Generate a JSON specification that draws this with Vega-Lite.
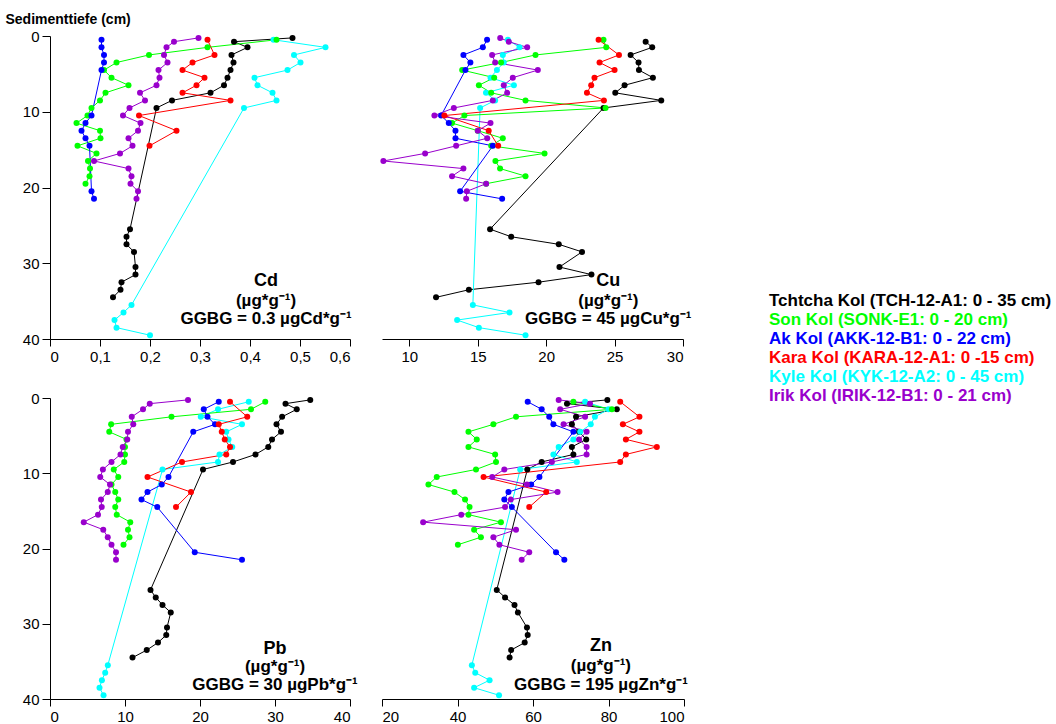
{
"$schema": "https://vega.github.io/schema/vega-lite/v6.json",
"background": "white",
"padding": {"left": 5, "top": 12, "right": 0, "bottom": 0},
"config": {"view": {"stroke": null}, "font": "Liberation Sans", "axis": {"grid": false, "domainColor": "#000", "tickColor": "#000", "labelColor": "#000", "titleColor": "#000", "labelFontSize": 15, "labelFont": "Liberation Sans"}},
"datasets": {
"leg": [
{"l":"T","t":"Tchtcha Kol (TCH-12-A1: 0 - 35 cm)"},
{"l":"S","t":"Son Kol (SONK-E1: 0 -  20 cm)"},
{"l":"A","t":"Ak Kol (AKK-12-B1: 0 - 22 cm)"},
{"l":"K","t":"Kara Kol (KARA-12-A1: 0 -15 cm)"},
{"l":"Y","t":"Kyle Kol (KYK-12-A2: 0 - 45 cm)"},
{"l":"I","t":"Irik Kol (IRIK-12-B1: 0 - 21 cm)"}
],
"pts": [
{"e":"Cd","l":"T","d":0.25,"v":0.485},{"e":"Cd","l":"T","d":0.75,"v":0.368},{"e":"Cd","l":"T","d":1.5,"v":0.395},{"e":"Cd","l":"T","d":2.5,"v":0.363},{"e":"Cd","l":"T","d":3.5,"v":0.367},{"e":"Cd","l":"T","d":4.5,"v":0.361},{"e":"Cd","l":"T","d":5.5,"v":0.355},{"e":"Cd","l":"T","d":6.5,"v":0.348},{"e":"Cd","l":"T","d":7.5,"v":0.321},{"e":"Cd","l":"T","d":8.5,"v":0.244},{"e":"Cd","l":"T","d":9.5,"v":0.213},{"e":"Cd","l":"T","d":25.5,"v":0.16},{"e":"Cd","l":"T","d":26.5,"v":0.153},{"e":"Cd","l":"T","d":27.5,"v":0.153},{"e":"Cd","l":"T","d":28.5,"v":0.168},{"e":"Cd","l":"T","d":30.5,"v":0.171},{"e":"Cd","l":"T","d":31.5,"v":0.171},{"e":"Cd","l":"T","d":32.5,"v":0.143},{"e":"Cd","l":"T","d":33.5,"v":0.141},{"e":"Cd","l":"T","d":34.5,"v":0.126},
{"e":"Cd","l":"Y","d":0.5,"v":0.447},{"e":"Cd","l":"Y","d":1.5,"v":0.551},{"e":"Cd","l":"Y","d":2.5,"v":0.488},{"e":"Cd","l":"Y","d":3.5,"v":0.501},{"e":"Cd","l":"Y","d":4.5,"v":0.475},{"e":"Cd","l":"Y","d":5.5,"v":0.409},{"e":"Cd","l":"Y","d":6.5,"v":0.415},{"e":"Cd","l":"Y","d":7.5,"v":0.445},{"e":"Cd","l":"Y","d":8.5,"v":0.453},{"e":"Cd","l":"Y","d":9.5,"v":0.388},{"e":"Cd","l":"Y","d":35.5,"v":0.163},{"e":"Cd","l":"Y","d":36.5,"v":0.147},{"e":"Cd","l":"Y","d":37.5,"v":0.129},{"e":"Cd","l":"Y","d":38.5,"v":0.133},{"e":"Cd","l":"Y","d":39.5,"v":0.2},
{"e":"Cd","l":"S","d":0.5,"v":0.453},{"e":"Cd","l":"S","d":1.5,"v":0.315},{"e":"Cd","l":"S","d":2.5,"v":0.198},{"e":"Cd","l":"S","d":3.5,"v":0.133},{"e":"Cd","l":"S","d":4.5,"v":0.108},{"e":"Cd","l":"S","d":5.5,"v":0.123},{"e":"Cd","l":"S","d":6.5,"v":0.157},{"e":"Cd","l":"S","d":7.5,"v":0.111},{"e":"Cd","l":"S","d":8.5,"v":0.1},{"e":"Cd","l":"S","d":9.5,"v":0.083},{"e":"Cd","l":"S","d":10.5,"v":0.075},{"e":"Cd","l":"S","d":11.5,"v":0.053},{"e":"Cd","l":"S","d":12.5,"v":0.1},{"e":"Cd","l":"S","d":13.5,"v":0.101},{"e":"Cd","l":"S","d":14.5,"v":0.055},{"e":"Cd","l":"S","d":15.5,"v":0.093},{"e":"Cd","l":"S","d":16.5,"v":0.076},{"e":"Cd","l":"S","d":17.5,"v":0.08},{"e":"Cd","l":"S","d":18.5,"v":0.079},{"e":"Cd","l":"S","d":19.5,"v":0.071},
{"e":"Cd","l":"A","d":0.5,"v":0.103},{"e":"Cd","l":"A","d":1.5,"v":0.103},{"e":"Cd","l":"A","d":2.5,"v":0.108},{"e":"Cd","l":"A","d":3.5,"v":0.108},{"e":"Cd","l":"A","d":4.5,"v":0.103},{"e":"Cd","l":"A","d":10.5,"v":0.083},{"e":"Cd","l":"A","d":11.5,"v":0.071},{"e":"Cd","l":"A","d":12.5,"v":0.063},{"e":"Cd","l":"A","d":13.5,"v":0.071},{"e":"Cd","l":"A","d":14.5,"v":0.079},{"e":"Cd","l":"A","d":20.5,"v":0.083},{"e":"Cd","l":"A","d":21.5,"v":0.088},
{"e":"Cd","l":"K","d":0.5,"v":0.315},{"e":"Cd","l":"K","d":2.5,"v":0.329},{"e":"Cd","l":"K","d":3.5,"v":0.285},{"e":"Cd","l":"K","d":4.5,"v":0.265},{"e":"Cd","l":"K","d":5.5,"v":0.309},{"e":"Cd","l":"K","d":6.5,"v":0.293},{"e":"Cd","l":"K","d":7.5,"v":0.265},{"e":"Cd","l":"K","d":8.5,"v":0.361},{"e":"Cd","l":"K","d":10.5,"v":0.178},{"e":"Cd","l":"K","d":12.5,"v":0.253},{"e":"Cd","l":"K","d":14.5,"v":0.199},
{"e":"Cd","l":"I","d":0.25,"v":0.297},{"e":"Cd","l":"I","d":0.75,"v":0.248},{"e":"Cd","l":"I","d":1.5,"v":0.233},{"e":"Cd","l":"I","d":2.5,"v":0.228},{"e":"Cd","l":"I","d":3.5,"v":0.235},{"e":"Cd","l":"I","d":4.5,"v":0.217},{"e":"Cd","l":"I","d":5.5,"v":0.219},{"e":"Cd","l":"I","d":6.5,"v":0.213},{"e":"Cd","l":"I","d":7.5,"v":0.18},{"e":"Cd","l":"I","d":8.5,"v":0.19},{"e":"Cd","l":"I","d":9.5,"v":0.159},{"e":"Cd","l":"I","d":10.5,"v":0.146},{"e":"Cd","l":"I","d":11.5,"v":0.181},{"e":"Cd","l":"I","d":12.5,"v":0.176},{"e":"Cd","l":"I","d":13.5,"v":0.157},{"e":"Cd","l":"I","d":14.5,"v":0.165},{"e":"Cd","l":"I","d":15.5,"v":0.14},{"e":"Cd","l":"I","d":16.5,"v":0.088},{"e":"Cd","l":"I","d":17.5,"v":0.157},{"e":"Cd","l":"I","d":18.5,"v":0.163},{"e":"Cd","l":"I","d":19.5,"v":0.161},{"e":"Cd","l":"I","d":20.5,"v":0.176},{"e":"Cd","l":"I","d":21.5,"v":0.173},

{"e":"Cu","l":"T","d":0.75,"v":27.27},{"e":"Cu","l":"T","d":1.5,"v":27.75},{"e":"Cu","l":"T","d":2.5,"v":26.17},{"e":"Cu","l":"T","d":3.5,"v":26.75},{"e":"Cu","l":"T","d":4.5,"v":26.78},{"e":"Cu","l":"T","d":5.5,"v":27.8},{"e":"Cu","l":"T","d":6.5,"v":25.73},{"e":"Cu","l":"T","d":7.5,"v":25.05},{"e":"Cu","l":"T","d":8.5,"v":28.41},{"e":"Cu","l":"T","d":9.5,"v":24.19},{"e":"Cu","l":"T","d":25.5,"v":15.9},{"e":"Cu","l":"T","d":26.5,"v":17.44},{"e":"Cu","l":"T","d":27.5,"v":20.92},{"e":"Cu","l":"T","d":28.5,"v":22.62},{"e":"Cu","l":"T","d":30.5,"v":20.97},{"e":"Cu","l":"T","d":31.5,"v":23.31},{"e":"Cu","l":"T","d":32.5,"v":19.44},{"e":"Cu","l":"T","d":33.5,"v":14.35},{"e":"Cu","l":"T","d":34.5,"v":11.95},
{"e":"Cu","l":"Y","d":0.5,"v":17.2},{"e":"Cu","l":"Y","d":1.5,"v":18.05},{"e":"Cu","l":"Y","d":2.5,"v":16.83},{"e":"Cu","l":"Y","d":3.5,"v":16.9},{"e":"Cu","l":"Y","d":4.5,"v":16.4},{"e":"Cu","l":"Y","d":5.5,"v":15.93},{"e":"Cu","l":"Y","d":6.5,"v":17.64},{"e":"Cu","l":"Y","d":7.5,"v":15.6},{"e":"Cu","l":"Y","d":8.5,"v":16.27},{"e":"Cu","l":"Y","d":9.5,"v":15.17},{"e":"Cu","l":"Y","d":35.5,"v":14.64},{"e":"Cu","l":"Y","d":36.5,"v":17.32},{"e":"Cu","l":"Y","d":37.5,"v":13.49},{"e":"Cu","l":"Y","d":38.5,"v":15.08},{"e":"Cu","l":"Y","d":39.5,"v":18.49},
{"e":"Cu","l":"S","d":0.5,"v":24.19},{"e":"Cu","l":"S","d":1.5,"v":24.39},{"e":"Cu","l":"S","d":2.5,"v":19.22},{"e":"Cu","l":"S","d":3.5,"v":16.7},{"e":"Cu","l":"S","d":4.5,"v":13.86},{"e":"Cu","l":"S","d":5.5,"v":16.2},{"e":"Cu","l":"S","d":6.5,"v":15.08},{"e":"Cu","l":"S","d":7.5,"v":15.98},{"e":"Cu","l":"S","d":8.5,"v":18.49},{"e":"Cu","l":"S","d":9.5,"v":24.34},{"e":"Cu","l":"S","d":10.5,"v":14.02},{"e":"Cu","l":"S","d":11.5,"v":13.12},{"e":"Cu","l":"S","d":12.5,"v":15.0},{"e":"Cu","l":"S","d":13.5,"v":16.83},{"e":"Cu","l":"S","d":14.5,"v":15.98},{"e":"Cu","l":"S","d":15.5,"v":19.88},{"e":"Cu","l":"S","d":16.5,"v":16.29},{"e":"Cu","l":"S","d":17.5,"v":16.63},{"e":"Cu","l":"S","d":18.5,"v":18.49},{"e":"Cu","l":"S","d":19.5,"v":15.61},
{"e":"Cu","l":"A","d":0.5,"v":15.68},{"e":"Cu","l":"A","d":1.5,"v":15.37},{"e":"Cu","l":"A","d":2.5,"v":13.95},{"e":"Cu","l":"A","d":3.5,"v":14.46},{"e":"Cu","l":"A","d":4.5,"v":14.1},{"e":"Cu","l":"A","d":10.5,"v":12.32},{"e":"Cu","l":"A","d":11.5,"v":12.88},{"e":"Cu","l":"A","d":12.5,"v":13.37},{"e":"Cu","l":"A","d":13.5,"v":13.37},{"e":"Cu","l":"A","d":14.5,"v":16.1},{"e":"Cu","l":"A","d":20.5,"v":13.71},{"e":"Cu","l":"A","d":21.5,"v":16.78},
{"e":"Cu","l":"K","d":0.5,"v":23.83},{"e":"Cu","l":"K","d":2.5,"v":25.32},{"e":"Cu","l":"K","d":3.5,"v":23.9},{"e":"Cu","l":"K","d":4.5,"v":25.0},{"e":"Cu","l":"K","d":5.5,"v":23.53},{"e":"Cu","l":"K","d":6.5,"v":23.29},{"e":"Cu","l":"K","d":7.5,"v":22.98},{"e":"Cu","l":"K","d":8.5,"v":24.22},{"e":"Cu","l":"K","d":10.5,"v":12.56},{"e":"Cu","l":"K","d":12.5,"v":15.8},{"e":"Cu","l":"K","d":14.5,"v":16.49},
{"e":"Cu","l":"I","d":0.25,"v":16.64},{"e":"Cu","l":"I","d":0.75,"v":17.27},{"e":"Cu","l":"I","d":1.5,"v":18.61},{"e":"Cu","l":"I","d":2.5,"v":16.05},{"e":"Cu","l":"I","d":3.5,"v":16.27},{"e":"Cu","l":"I","d":4.5,"v":19.39},{"e":"Cu","l":"I","d":5.5,"v":17.56},{"e":"Cu","l":"I","d":6.5,"v":16.9},{"e":"Cu","l":"I","d":7.5,"v":17.15},{"e":"Cu","l":"I","d":8.5,"v":16.1},{"e":"Cu","l":"I","d":9.5,"v":13.25},{"e":"Cu","l":"I","d":10.5,"v":11.83},{"e":"Cu","l":"I","d":11.5,"v":15.93},{"e":"Cu","l":"I","d":12.5,"v":15.0},{"e":"Cu","l":"I","d":13.5,"v":15.69},{"e":"Cu","l":"I","d":14.5,"v":13.42},{"e":"Cu","l":"I","d":15.5,"v":11.15},{"e":"Cu","l":"I","d":16.5,"v":8.1},{"e":"Cu","l":"I","d":17.5,"v":13.95},{"e":"Cu","l":"I","d":18.5,"v":13.12},{"e":"Cu","l":"I","d":19.5,"v":15.61},{"e":"Cu","l":"I","d":20.5,"v":14.2},{"e":"Cu","l":"I","d":21.5,"v":14.15},

{"e":"Pb","l":"T","d":0.25,"v":34.7},{"e":"Pb","l":"T","d":0.75,"v":31.4},{"e":"Pb","l":"T","d":1.5,"v":32.9},{"e":"Pb","l":"T","d":2.5,"v":30.95},{"e":"Pb","l":"T","d":3.5,"v":30.2},{"e":"Pb","l":"T","d":4.5,"v":30.8},{"e":"Pb","l":"T","d":5.5,"v":29.6},{"e":"Pb","l":"T","d":6.5,"v":29.1},{"e":"Pb","l":"T","d":7.5,"v":27.4},{"e":"Pb","l":"T","d":8.5,"v":24.4},{"e":"Pb","l":"T","d":9.5,"v":20.4},{"e":"Pb","l":"T","d":25.5,"v":13.4},{"e":"Pb","l":"T","d":26.5,"v":14.1},{"e":"Pb","l":"T","d":27.5,"v":15.0},{"e":"Pb","l":"T","d":28.5,"v":16.1},{"e":"Pb","l":"T","d":30.5,"v":15.6},{"e":"Pb","l":"T","d":31.5,"v":15.5},{"e":"Pb","l":"T","d":32.5,"v":14.4},{"e":"Pb","l":"T","d":33.5,"v":12.9},{"e":"Pb","l":"T","d":34.5,"v":11.0},
{"e":"Pb","l":"Y","d":0.5,"v":26.5},{"e":"Pb","l":"Y","d":1.5,"v":22.4},{"e":"Pb","l":"Y","d":2.5,"v":20.1},{"e":"Pb","l":"Y","d":3.5,"v":25.6},{"e":"Pb","l":"Y","d":4.5,"v":23.5},{"e":"Pb","l":"Y","d":5.5,"v":23.8},{"e":"Pb","l":"Y","d":6.5,"v":24.3},{"e":"Pb","l":"Y","d":7.5,"v":22.6},{"e":"Pb","l":"Y","d":8.5,"v":22.4},{"e":"Pb","l":"Y","d":9.5,"v":15.0},{"e":"Pb","l":"Y","d":35.5,"v":7.71},{"e":"Pb","l":"Y","d":36.5,"v":7.36},{"e":"Pb","l":"Y","d":37.5,"v":6.92},{"e":"Pb","l":"Y","d":38.5,"v":6.6},{"e":"Pb","l":"Y","d":39.5,"v":7.14},
{"e":"Pb","l":"S","d":0.5,"v":28.7},{"e":"Pb","l":"S","d":1.5,"v":26.8},{"e":"Pb","l":"S","d":2.5,"v":16.2},{"e":"Pb","l":"S","d":3.5,"v":8.15},{"e":"Pb","l":"S","d":4.5,"v":7.9},{"e":"Pb","l":"S","d":5.5,"v":10.2},{"e":"Pb","l":"S","d":6.5,"v":10.0},{"e":"Pb","l":"S","d":7.5,"v":10.0},{"e":"Pb","l":"S","d":8.5,"v":9.9},{"e":"Pb","l":"S","d":9.5,"v":8.5},{"e":"Pb","l":"S","d":10.5,"v":9.1},{"e":"Pb","l":"S","d":11.5,"v":8.2},{"e":"Pb","l":"S","d":12.5,"v":8.7},{"e":"Pb","l":"S","d":13.5,"v":9.1},{"e":"Pb","l":"S","d":14.5,"v":8.7},{"e":"Pb","l":"S","d":15.5,"v":8.9},{"e":"Pb","l":"S","d":16.5,"v":10.7},{"e":"Pb","l":"S","d":17.5,"v":10.4},{"e":"Pb","l":"S","d":18.5,"v":10.6},{"e":"Pb","l":"S","d":19.5,"v":9.8},
{"e":"Pb","l":"A","d":0.5,"v":22.5},{"e":"Pb","l":"A","d":1.5,"v":20.5},{"e":"Pb","l":"A","d":2.5,"v":21.0},{"e":"Pb","l":"A","d":3.5,"v":22.0},{"e":"Pb","l":"A","d":4.5,"v":19.1},{"e":"Pb","l":"A","d":10.5,"v":15.8},{"e":"Pb","l":"A","d":11.5,"v":14.9},{"e":"Pb","l":"A","d":12.5,"v":13.0},{"e":"Pb","l":"A","d":13.5,"v":12.2},{"e":"Pb","l":"A","d":14.5,"v":14.3},{"e":"Pb","l":"A","d":20.5,"v":19.3},{"e":"Pb","l":"A","d":21.5,"v":25.6},
{"e":"Pb","l":"K","d":0.5,"v":24.0},{"e":"Pb","l":"K","d":2.5,"v":26.3},{"e":"Pb","l":"K","d":3.5,"v":22.5},{"e":"Pb","l":"K","d":4.5,"v":22.9},{"e":"Pb","l":"K","d":5.5,"v":23.3},{"e":"Pb","l":"K","d":6.5,"v":24.0},{"e":"Pb","l":"K","d":7.5,"v":23.5},{"e":"Pb","l":"K","d":8.5,"v":17.6},{"e":"Pb","l":"K","d":10.5,"v":13.0},{"e":"Pb","l":"K","d":12.5,"v":18.8},{"e":"Pb","l":"K","d":14.5,"v":16.8},
{"e":"Pb","l":"I","d":0.25,"v":18.4},{"e":"Pb","l":"I","d":0.75,"v":13.3},{"e":"Pb","l":"I","d":1.5,"v":12.4},{"e":"Pb","l":"I","d":2.5,"v":10.9},{"e":"Pb","l":"I","d":3.5,"v":11.1},{"e":"Pb","l":"I","d":4.5,"v":10.4},{"e":"Pb","l":"I","d":5.5,"v":10.3},{"e":"Pb","l":"I","d":6.5,"v":9.7},{"e":"Pb","l":"I","d":7.5,"v":9.4},{"e":"Pb","l":"I","d":8.5,"v":8.2},{"e":"Pb","l":"I","d":9.5,"v":7.05},{"e":"Pb","l":"I","d":10.5,"v":6.7},{"e":"Pb","l":"I","d":11.5,"v":8.0},{"e":"Pb","l":"I","d":12.5,"v":7.7},{"e":"Pb","l":"I","d":13.5,"v":6.8},{"e":"Pb","l":"I","d":14.5,"v":6.9},{"e":"Pb","l":"I","d":15.5,"v":6.4},{"e":"Pb","l":"I","d":16.5,"v":4.5},{"e":"Pb","l":"I","d":17.5,"v":7.1},{"e":"Pb","l":"I","d":18.5,"v":7.7},{"e":"Pb","l":"I","d":19.5,"v":8.2},{"e":"Pb","l":"I","d":20.5,"v":8.8},{"e":"Pb","l":"I","d":21.5,"v":8.8},

{"e":"Zn","l":"T","d":0.25,"v":79.7},{"e":"Zn","l":"T","d":0.75,"v":69.0},{"e":"Zn","l":"T","d":1.5,"v":82.2},{"e":"Zn","l":"T","d":2.5,"v":71.4},{"e":"Zn","l":"T","d":3.5,"v":70.3},{"e":"Zn","l":"T","d":4.5,"v":72.2},{"e":"Zn","l":"T","d":5.5,"v":74.1},{"e":"Zn","l":"T","d":6.5,"v":70.3},{"e":"Zn","l":"T","d":7.5,"v":70.7},{"e":"Zn","l":"T","d":8.5,"v":62.3},{"e":"Zn","l":"T","d":9.5,"v":58.5},{"e":"Zn","l":"T","d":25.5,"v":50.4},{"e":"Zn","l":"T","d":26.5,"v":52.6},{"e":"Zn","l":"T","d":27.5,"v":55.1},{"e":"Zn","l":"T","d":28.5,"v":56.0},{"e":"Zn","l":"T","d":30.5,"v":58.4},{"e":"Zn","l":"T","d":31.5,"v":58.6},{"e":"Zn","l":"T","d":32.5,"v":57.8},{"e":"Zn","l":"T","d":33.5,"v":54.2},{"e":"Zn","l":"T","d":34.5,"v":53.8},
{"e":"Zn","l":"Y","d":0.5,"v":73.8},{"e":"Zn","l":"Y","d":1.5,"v":80.0},{"e":"Zn","l":"Y","d":2.5,"v":76.4},{"e":"Zn","l":"Y","d":3.5,"v":75.3},{"e":"Zn","l":"Y","d":4.5,"v":72.5},{"e":"Zn","l":"Y","d":5.5,"v":70.7},{"e":"Zn","l":"Y","d":6.5,"v":66.8},{"e":"Zn","l":"Y","d":7.5,"v":65.4},{"e":"Zn","l":"Y","d":8.5,"v":71.6},{"e":"Zn","l":"Y","d":9.5,"v":56.6},{"e":"Zn","l":"Y","d":35.5,"v":43.8},{"e":"Zn","l":"Y","d":36.5,"v":44.7},{"e":"Zn","l":"Y","d":37.5,"v":48.5},{"e":"Zn","l":"Y","d":38.5,"v":44.4},{"e":"Zn","l":"Y","d":39.5,"v":51.0},
{"e":"Zn","l":"S","d":0.5,"v":70.7},{"e":"Zn","l":"S","d":1.5,"v":80.9},{"e":"Zn","l":"S","d":2.5,"v":55.5},{"e":"Zn","l":"S","d":3.5,"v":49.5},{"e":"Zn","l":"S","d":4.5,"v":42.9},{"e":"Zn","l":"S","d":5.5,"v":45.1},{"e":"Zn","l":"S","d":6.5,"v":42.9},{"e":"Zn","l":"S","d":7.5,"v":49.97},{"e":"Zn","l":"S","d":8.5,"v":50.2},{"e":"Zn","l":"S","d":9.5,"v":44.9},{"e":"Zn","l":"S","d":10.5,"v":34.5},{"e":"Zn","l":"S","d":11.5,"v":32.3},{"e":"Zn","l":"S","d":12.5,"v":39.2},{"e":"Zn","l":"S","d":13.5,"v":42.0},{"e":"Zn","l":"S","d":14.5,"v":43.2},{"e":"Zn","l":"S","d":15.5,"v":42.9},{"e":"Zn","l":"S","d":16.5,"v":51.5},{"e":"Zn","l":"S","d":17.5,"v":44.4},{"e":"Zn","l":"S","d":18.5,"v":46.2},{"e":"Zn","l":"S","d":19.5,"v":40.1},
{"e":"Zn","l":"A","d":0.5,"v":58.6},{"e":"Zn","l":"A","d":1.5,"v":62.3},{"e":"Zn","l":"A","d":2.5,"v":64.3},{"e":"Zn","l":"A","d":3.5,"v":65.4},{"e":"Zn","l":"A","d":4.5,"v":70.7},{"e":"Zn","l":"A","d":10.5,"v":61.7},{"e":"Zn","l":"A","d":11.5,"v":59.5},{"e":"Zn","l":"A","d":12.5,"v":53.5},{"e":"Zn","l":"A","d":13.5,"v":52.4},{"e":"Zn","l":"A","d":14.5,"v":54.4},{"e":"Zn","l":"A","d":20.5,"v":66.1},{"e":"Zn","l":"A","d":21.5,"v":68.3},
{"e":"Zn","l":"K","d":0.5,"v":83.1},{"e":"Zn","l":"K","d":2.5,"v":88.2},{"e":"Zn","l":"K","d":3.5,"v":83.8},{"e":"Zn","l":"K","d":4.5,"v":88.2},{"e":"Zn","l":"K","d":5.5,"v":84.6},{"e":"Zn","l":"K","d":6.5,"v":92.8},{"e":"Zn","l":"K","d":7.5,"v":84.6},{"e":"Zn","l":"K","d":8.5,"v":83.1},{"e":"Zn","l":"K","d":10.5,"v":46.9},{"e":"Zn","l":"K","d":12.5,"v":63.5},{"e":"Zn","l":"K","d":14.5,"v":59.0},
{"e":"Zn","l":"I","d":0.25,"v":66.8},{"e":"Zn","l":"I","d":0.75,"v":75.1},{"e":"Zn","l":"I","d":1.5,"v":67.2},{"e":"Zn","l":"I","d":2.5,"v":73.8},{"e":"Zn","l":"I","d":3.5,"v":68.1},{"e":"Zn","l":"I","d":4.5,"v":74.2},{"e":"Zn","l":"I","d":5.5,"v":72.2},{"e":"Zn","l":"I","d":6.5,"v":74.2},{"e":"Zn","l":"I","d":7.5,"v":74.2},{"e":"Zn","l":"I","d":8.5,"v":65.0},{"e":"Zn","l":"I","d":9.5,"v":52.4},{"e":"Zn","l":"I","d":10.5,"v":49.2},{"e":"Zn","l":"I","d":11.5,"v":58.4},{"e":"Zn","l":"I","d":12.5,"v":66.5},{"e":"Zn","l":"I","d":13.5,"v":54.1},{"e":"Zn","l":"I","d":14.5,"v":52.6},{"e":"Zn","l":"I","d":15.5,"v":41.0},{"e":"Zn","l":"I","d":16.5,"v":30.9},{"e":"Zn","l":"I","d":17.5,"v":55.5},{"e":"Zn","l":"I","d":18.5,"v":49.5},{"e":"Zn","l":"I","d":19.5,"v":51.1},{"e":"Zn","l":"I","d":20.5,"v":59.0},{"e":"Zn","l":"I","d":21.5,"v":57.0}
]
},
"spacing": 77,
"hconcat": [
{
"columns": 2,
"spacing": {"row": 27, "column": 22},
"concat": [
{
"width": 300, "height": 303,
"layer": [
{"data": {"name": "pts"}, "transform": [{"filter": "datum.e === 'Cd'"}],
"mark": {"type": "line", "strokeWidth": 1, "point": {"filled": true, "size": 36, "opacity": 1}},
"encoding": {
"x": {"field": "v", "type": "quantitative", "scale": {"domain": [0, 0.6], "nice": false, "zero": false}, "axis": {"title": null, "values": [0,0.05,0.1,0.15,0.2,0.25,0.3,0.35,0.4,0.45,0.5,0.55,0.6], "tickSize": 7, "labelPadding": 3, "labelExpr": "abs(datum.value*10 - round(datum.value*10)) < 0.001 ? (datum.value == 0 ? '0' : replace(format(datum.value, '.1f'), '.', ',')) : ''"}},
"y": {"field": "d", "type": "quantitative", "scale": {"domain": [0, 40], "reverse": true, "nice": false, "zero": false}, "axis": {"values": [0,2.5,5,7.5,10,12.5,15,17.5,20,22.5,25,27.5,30,32.5,35,37.5,40], "labelExpr": "datum.value % 5 === 0 ? datum.label : ''", "tickSize": {"condition": {"test": "datum.value % 5 === 0", "value": 8}, "value": 4}, "labelPadding": 3, "title": "Sedimenttiefe (cm)", "titleAngle": 0, "titleAlign": "left", "titleBaseline": "alphabetic", "titleX": -45, "titleY": -13, "titleFontSize": 14, "titleFontWeight": "bold"}},
"color": {"field": "l", "type": "nominal", "scale": {"domain": ["T","S","A","K","Y","I"], "range": ["#000000","#00ff00","#0000ff","#ff0000","#00ffff","#9900cc"]}, "legend": null},
"order": {"field": "d", "type": "quantitative"}
}},
{"data": {"values": [{}]}, "mark": {"type": "text", "fontSize": 18, "fontWeight": "bold", "color": "#000", "baseline": "middle"}, "encoding": {"x": {"datum": 0.432}, "y": {"datum": 32.3}, "text": {"value": "Cd"}}},
{"data": {"values": [{}]}, "mark": {"type": "text", "fontSize": 17, "fontWeight": "bold", "color": "#000", "baseline": "middle"}, "encoding": {"x": {"datum": 0.432}, "y": {"datum": 35.0}, "text": {"value": "(µg*g⁻¹)"}}},
{"data": {"values": [{}]}, "mark": {"type": "text", "fontSize": 17, "fontWeight": "bold", "color": "#000", "baseline": "middle"}, "encoding": {"x": {"datum": 0.432}, "y": {"datum": 37.4}, "text": {"value": "GGBG = 0.3 µgCd*g⁻¹"}}}
]
},
{
"width": 301, "height": 303,
"layer": [
{"data": {"name": "pts"}, "transform": [{"filter": "datum.e === 'Cu'"}],
"mark": {"type": "line", "strokeWidth": 1, "point": {"filled": true, "size": 36, "opacity": 1}},
"encoding": {
"x": {"field": "v", "type": "quantitative", "scale": {"domain": [8, 30], "nice": false, "zero": false}, "axis": {"title": null, "values": [10,12.5,15,17.5,20,22.5,25,27.5,30], "tickSize": 7, "labelPadding": 3, "labelExpr": "datum.value % 5 === 0 ? datum.label : ''"}},
"y": {"field": "d", "type": "quantitative", "scale": {"domain": [0, 40], "reverse": true, "nice": false, "zero": false}, "axis": null},
"color": {"field": "l", "type": "nominal", "scale": {"domain": ["T","S","A","K","Y","I"], "range": ["#000000","#00ff00","#0000ff","#ff0000","#00ffff","#9900cc"]}, "legend": null},
"order": {"field": "d", "type": "quantitative"}
}},
{"data": {"values": [{}]}, "mark": {"type": "text", "fontSize": 18, "fontWeight": "bold", "color": "#000", "baseline": "middle"}, "encoding": {"x": {"datum": 24.54}, "y": {"datum": 32.3}, "text": {"value": "Cu"}}},
{"data": {"values": [{}]}, "mark": {"type": "text", "fontSize": 17, "fontWeight": "bold", "color": "#000", "baseline": "middle"}, "encoding": {"x": {"datum": 24.54}, "y": {"datum": 35.0}, "text": {"value": "(µg*g⁻¹)"}}},
{"data": {"values": [{}]}, "mark": {"type": "text", "fontSize": 17, "fontWeight": "bold", "color": "#000", "baseline": "middle"}, "encoding": {"x": {"datum": 24.54}, "y": {"datum": 37.4}, "text": {"value": "GGBG = 45 µgCu*g⁻¹"}}}
]
},
{
"width": 300, "height": 301,
"layer": [
{"data": {"name": "pts"}, "transform": [{"filter": "datum.e === 'Pb'"}],
"mark": {"type": "line", "strokeWidth": 1, "point": {"filled": true, "size": 36, "opacity": 1}},
"encoding": {
"x": {"field": "v", "type": "quantitative", "scale": {"domain": [0, 40], "nice": false, "zero": false}, "axis": {"title": null, "values": [0,5,10,15,20,25,30,35,40], "tickSize": 7, "labelPadding": 3, "labelExpr": "datum.value % 10 === 0 ? datum.label : ''"}},
"y": {"field": "d", "type": "quantitative", "scale": {"domain": [0, 40], "reverse": true, "nice": false, "zero": false}, "axis": {"values": [0,2.5,5,7.5,10,12.5,15,17.5,20,22.5,25,27.5,30,32.5,35,37.5,40], "labelExpr": "datum.value % 5 === 0 ? datum.label : ''", "tickSize": {"condition": {"test": "datum.value % 5 === 0", "value": 8}, "value": 4}, "labelPadding": 3, "title": null}},
"color": {"field": "l", "type": "nominal", "scale": {"domain": ["T","S","A","K","Y","I"], "range": ["#000000","#00ff00","#0000ff","#ff0000","#00ffff","#9900cc"]}, "legend": null},
"order": {"field": "d", "type": "quantitative"}
}},
{"data": {"values": [{}]}, "mark": {"type": "text", "fontSize": 18, "fontWeight": "bold", "color": "#000", "baseline": "middle"}, "encoding": {"x": {"datum": 30.0}, "y": {"datum": 33.4}, "text": {"value": "Pb"}}},
{"data": {"values": [{}]}, "mark": {"type": "text", "fontSize": 17, "fontWeight": "bold", "color": "#000", "baseline": "middle"}, "encoding": {"x": {"datum": 30.0}, "y": {"datum": 35.8}, "text": {"value": "(µg*g⁻¹)"}}},
{"data": {"values": [{}]}, "mark": {"type": "text", "fontSize": 17, "fontWeight": "bold", "color": "#000", "baseline": "middle"}, "encoding": {"x": {"datum": 30.0}, "y": {"datum": 38.2}, "text": {"value": "GGBG = 30 µgPb*g⁻¹"}}}
]
},
{
"width": 302, "height": 301,
"layer": [
{"data": {"name": "pts"}, "transform": [{"filter": "datum.e === 'Zn'"}],
"mark": {"type": "line", "strokeWidth": 1, "point": {"filled": true, "size": 36, "opacity": 1}},
"encoding": {
"x": {"field": "v", "type": "quantitative", "scale": {"domain": [20, 100], "nice": false, "zero": false}, "axis": {"title": null, "values": [20,30,40,50,60,70,80,90,100], "tickSize": 7, "labelPadding": 3, "labelExpr": "datum.value % 20 === 0 ? datum.label : ''"}},
"y": {"field": "d", "type": "quantitative", "scale": {"domain": [0, 40], "reverse": true, "nice": false, "zero": false}, "axis": null},
"color": {"field": "l", "type": "nominal", "scale": {"domain": ["T","S","A","K","Y","I"], "range": ["#000000","#00ff00","#0000ff","#ff0000","#00ffff","#9900cc"]}, "legend": null},
"order": {"field": "d", "type": "quantitative"}
}},
{"data": {"values": [{}]}, "mark": {"type": "text", "fontSize": 18, "fontWeight": "bold", "color": "#000", "baseline": "middle"}, "encoding": {"x": {"datum": 78.0}, "y": {"datum": 32.9}, "text": {"value": "Zn"}}},
{"data": {"values": [{}]}, "mark": {"type": "text", "fontSize": 17, "fontWeight": "bold", "color": "#000", "baseline": "middle"}, "encoding": {"x": {"datum": 78.0}, "y": {"datum": 35.6}, "text": {"value": "(µg*g⁻¹)"}}},
{"data": {"values": [{}]}, "mark": {"type": "text", "fontSize": 17, "fontWeight": "bold", "color": "#000", "baseline": "middle"}, "encoding": {"x": {"datum": 78.0}, "y": {"datum": 38.1}, "text": {"value": "GGBG = 195 µgZn*g⁻¹"}}}
]
}
]
},
{
"width": 280, "height": 662,
"data": {"name": "leg"},
"transform": [{"window": [{"op": "row_number", "as": "i"}]}],
"mark": {"type": "text", "align": "left", "baseline": "middle", "fontSize": 17, "fontWeight": "bold"},
"encoding": {
"x": {"datum": 0, "type": "quantitative", "scale": {"domain": [0, 1]}, "axis": null},
"y": {"field": "i", "type": "quantitative", "scale": {"domain": [-12.963, 21.879], "reverse": true, "nice": false, "zero": false}, "axis": null},
"text": {"field": "t"},
"color": {"field": "l", "type": "nominal", "scale": {"domain": ["T","S","A","K","Y","I"], "range": ["#000000","#00ff00","#0000ff","#ff0000","#00ffff","#9900cc"]}, "legend": null}
}
}
]
}
